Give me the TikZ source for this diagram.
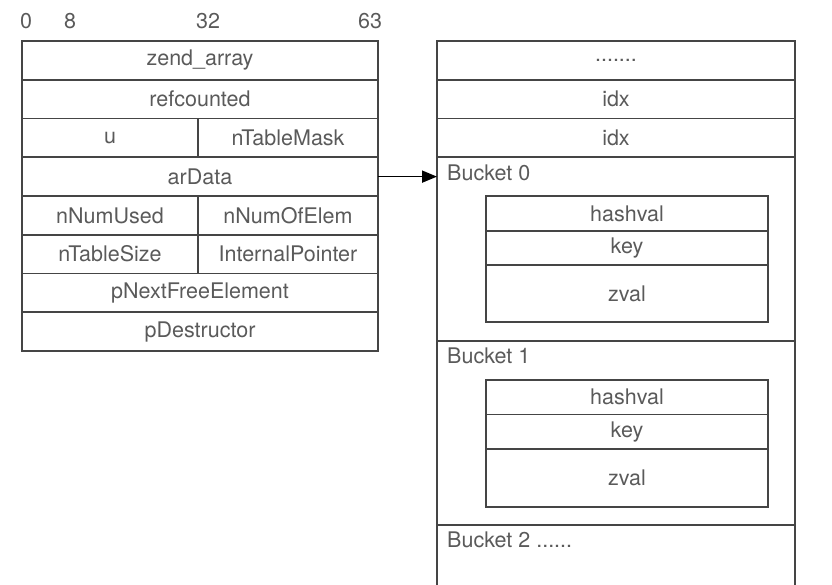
\documentclass[tikz,border=0pt]{standalone}
\usepackage{fontspec}
\setmainfont{TeX Gyre Heros}
\usetikzlibrary{arrows.meta, positioning}
\definecolor{linegray}{HTML}{454545}
\definecolor{textgray}{HTML}{5a5a5a}

\tikzset{
  cell/.style={draw=linegray, line width=1.6pt, inner sep=0pt, outer sep=0pt,
               anchor=north west, text=textgray, font=\fontsize{21.5}{25}\selectfont,
               minimum height=38.75pt},
  wide/.style={minimum width=356pt},
  lhalf/.style={minimum width=176pt},
  rhalf/.style={minimum width=180pt},
  slot/.style={minimum width=358pt},
  inner/.style={minimum width=282pt},
  bitnum/.style={text=textgray, font=\fontsize{21.5}{25}\selectfont, inner sep=0pt},
  bucketname/.style={text=textgray, font=\fontsize{21.5}{25}\selectfont, inner sep=0pt, anchor=north west}
}

\begin{document}
\begin{tikzpicture}[x=1pt, y=1pt]
    \useasboundingbox (0,0) rectangle (832,-585);

    % bit offsets
    \node[bitnum] (o0) at (26,-21) {0};
    \node[bitnum] (o8) at (70,-21) {8};
    \node[bitnum] (o32) at (208,-21) {32};
    \node[bitnum] (o63) at (370,-21) {63};

    % zend_array
    \node[cell, wide] (za) at (22,-41) {zend\_array};
    \node[cell, wide, below=0pt of za] (rc) {refcounted};
    \node[cell, lhalf, below right=0pt of rc.south west] (u) {u};
    \node[cell, rhalf, right=0pt of u] (tm) {nTableMask};
    \node[cell, wide, below right=0pt of u.south west] (ad) {arData};
    \node[cell, lhalf, below right=0pt of ad.south west] (nu) {nNumUsed};
    \node[cell, rhalf, right=0pt of nu] (ne) {nNumOfElem};
    \node[cell, lhalf, below=0pt of nu] (ts) {nTableSize};
    \node[cell, rhalf, right=0pt of ts] (ip) {InternalPointer};
    \node[cell, wide, below right=0pt of ts.south west] (nf) {pNextFreeElement};
    \node[cell, wide, below=0pt of nf] (pd) {pDestructor};

    % arData memory
    \node[cell, slot] (dt) at (437,-41) {.......};
    \node[cell, slot, below=0pt of dt] (ix1) {idx};
    \node[cell, slot, below=0pt of ix1] (ix2) {idx};
    \node[cell, slot, minimum height=183.75pt, below=0pt of ix2] (b0) {};
    \node[cell, slot, minimum height=184pt, below=0pt of b0] (b1) {};
    \node[cell, slot, minimum height=90pt, below=0pt of b1] (b2) {};

    \node[bucketname, below right=7pt and 10pt of b0.north west] (b0name) {Bucket 0};
    \node[bucketname, below right=7pt and 10pt of b1.north west] (b1name) {Bucket 1};
    \node[bucketname, below right=7pt and 10pt of b2.north west] (b2name) {Bucket 2 ......};

    % bucket 0
    \node[cell, inner, minimum height=34.5pt, below right=39pt and 49pt of b0.north west] (hv0) {hashval};
    \node[cell, inner, minimum height=34.5pt, below=0pt of hv0] (ky0) {key};
    \node[cell, inner, minimum height=57pt, below=0pt of ky0] (zv0) {zval};

    % bucket 1
    \node[cell, inner, minimum height=34.5pt, below right=39pt and 49pt of b1.north west] (hv1) {hashval};
    \node[cell, inner, minimum height=34.5pt, below=0pt of hv1] (ky1) {key};
    \node[cell, inner, minimum height=58pt, below=0pt of ky1] (zv1) {zval};

    \draw[-{Triangle[length=15pt, width=12pt]}, line width=1.7pt, black] (ad.east) -- (ad.east -| b0.west);
\end{tikzpicture}
\end{document}
